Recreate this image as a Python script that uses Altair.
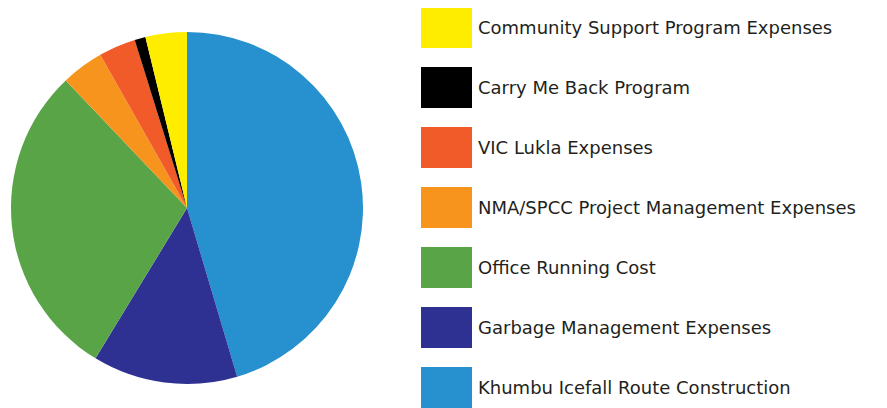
import altair as alt
import pandas as pd

categories = [
    "Khumbu Icefall Route Construction",
    "Garbage Management Expenses",
    "Office Running Cost",
    "NMA/SPCC Project Management Expenses",
    "VIC Lukla Expenses",
    "Carry Me Back Program",
    "Community Support Program Expenses",
]
values = [45.4, 13.3, 29.2, 3.9, 3.4, 1.0, 3.8]
colors = ["#2790CF", "#2E3192", "#58A447", "#F7941D", "#F15A29", "#000000", "#FFED00"]
legend_order = list(reversed(categories))

df = pd.DataFrame({
    "cat": categories,
    "value": values,
    "order": list(range(len(categories))),
})

color = alt.Color("cat:N", scale=alt.Scale(domain=categories, range=colors), legend=None)

pie = alt.Chart(df).mark_arc(outerRadius=176).encode(
    theta=alt.Theta("value:Q", stack=True),
    order=alt.Order("order:Q"),
    color=color,
    x=alt.value(179),
    y=alt.value(200),
)

yscale = alt.Scale(domain=legend_order, range=[-1, 400], paddingInner=19 / 60, paddingOuter=0)

rects = alt.Chart(df).mark_rect().encode(
    y=alt.Y("cat:N", scale=yscale, axis=None),
    x=alt.value(413),
    x2=alt.value(464),
    color=color,
)

texts = alt.Chart(df).mark_text(
    align="left", baseline="middle", fontSize=18, font="DejaVu Sans",
    color="#231F20", dy=1
).encode(
    y=alt.Y("cat:N", scale=yscale, axis=None, bandPosition=0.5),
    x=alt.value(470),
    text="cat:N",
)

chart = alt.layer(pie, rects, texts).properties(
    width=871, height=400, padding=0, autosize=alt.AutoSizeParams(type="none")
).configure_view(stroke=None)

chart.save("out.html", embed_options={"renderer": "svg", "actions": False})
